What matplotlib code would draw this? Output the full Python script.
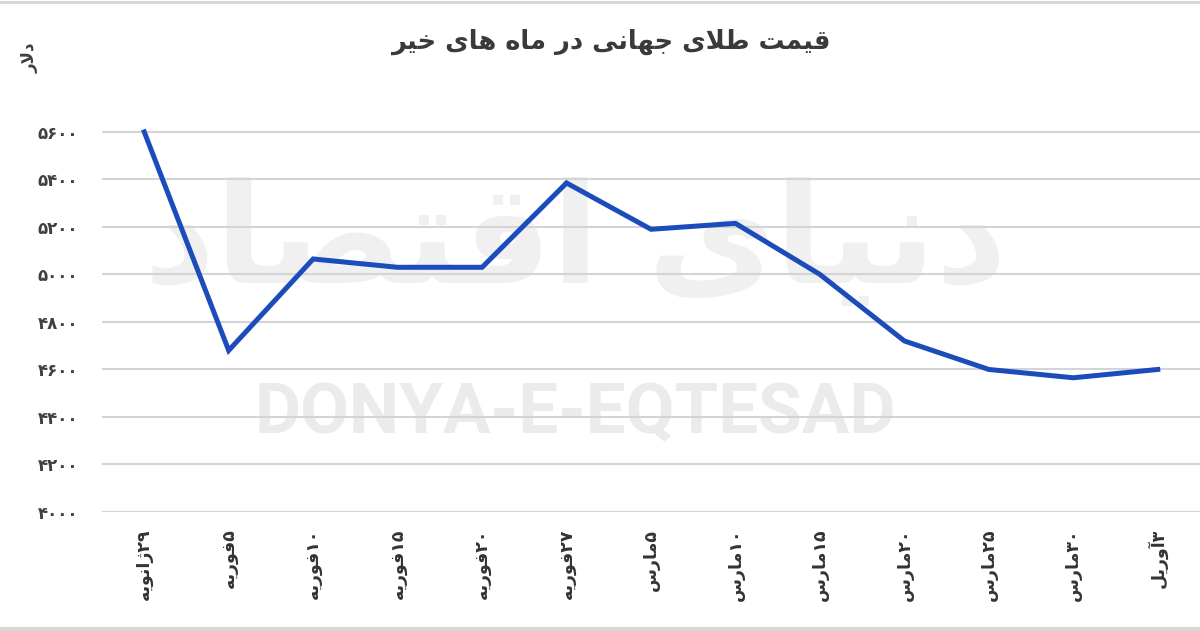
import matplotlib
matplotlib.use("Agg")
import matplotlib.pyplot as plt
from matplotlib.lines import Line2D

# ---------------- data ----------------
categories = ["۲۹ژانویه", "۵فوریه", "۱۰فوریه", "۱۵فوریه", "۲۰فوریه", "۲۷فوریه",
              "۵مارس", "۱۰مارس", "۱۵مارس", "۲۰مارس", "۲۵مارس", "۳۰مارس", "۳آوریل"]
prices = [5600, 4680, 5065, 5030, 5030, 5385, 5190, 5215, 5000, 4720, 4600, 4565, 4600]
y_ticks = [4000, 4200, 4400, 4600, 4800, 5000, 5200, 5400, 5600]
title_text = "قیمت طلای جهانی در ماه های خیر"
y_unit = "دلار"
watermark_latin = "DONYA-E-EQTESAD"
watermark_fa = "دنیای اقتصاد"

# ------------- minimal Arabic/Persian shaper -------------
FORMS = {
    "ا": ("\uFE8D", "\uFE8E", None, None),
    "آ": ("\uFE81", "\uFE82", None, None),
    "ب": ("\uFE8F", "\uFE90", "\uFE91", "\uFE92"),
    "ت": ("\uFE95", "\uFE96", "\uFE97", "\uFE98"),
    "ج": ("\uFE9D", "\uFE9E", "\uFE9F", "\uFEA0"),
    "خ": ("\uFEA5", "\uFEA6", "\uFEA7", "\uFEA8"),
    "د": ("\uFEA9", "\uFEAA", None, None),
    "ر": ("\uFEAD", "\uFEAE", None, None),
    "ژ": ("\uFB8A", "\uFB8B", None, None),
    "س": ("\uFEB1", "\uFEB2", "\uFEB3", "\uFEB4"),
    "ص": ("\uFEB9", "\uFEBA", "\uFEBB", "\uFEBC"),
    "ط": ("\uFEC1", "\uFEC2", "\uFEC3", "\uFEC4"),
    "ف": ("\uFED1", "\uFED2", "\uFED3", "\uFED4"),
    "ق": ("\uFED5", "\uFED6", "\uFED7", "\uFED8"),
    "ل": ("\uFEDD", "\uFEDE", "\uFEDF", "\uFEE0"),
    "م": ("\uFEE1", "\uFEE2", "\uFEE3", "\uFEE4"),
    "ن": ("\uFEE5", "\uFEE6", "\uFEE7", "\uFEE8"),
    "ه": ("\uFEE9", "\uFEEA", "\uFEEB", "\uFEEC"),
    "و": ("\uFEED", "\uFEEE", None, None),
    "ی": ("\uFBFC", "\uFBFD", "\uFBFE", "\uFBFF"),
}
LAM_ALEF = {"ا": ("\uFEFB", "\uFEFC"), "آ": ("\uFEF5", "\uFEF6")}


def dual(c):
    return c in FORMS and FORMS[c][2] is not None


def shape_word(s):
    out = []
    i = 0
    n = len(s)
    while i < n:
        c = s[i]
        if c not in FORMS:
            out.append(c)
            i += 1
            continue
        prev = s[i - 1] if i > 0 else ""
        joins_prev = dual(prev) and not (i >= 2 and s[i - 2] == "ل" and prev in LAM_ALEF)
        if c == "ل" and i + 1 < n and s[i + 1] in LAM_ALEF:
            iso, fin = LAM_ALEF[s[i + 1]]
            out.append(fin if joins_prev else iso)
            i += 2
            continue
        nxt = s[i + 1] if i + 1 < n else ""
        joins_next = dual(c) and nxt in FORMS
        iso, fin, ini, med = FORMS[c]
        if joins_prev and joins_next:
            out.append(med)
        elif joins_prev:
            out.append(fin)
        elif joins_next:
            out.append(ini)
        else:
            out.append(iso)
        i += 1
    return "".join(out)


def is_digit(c):
    return "\u06F0" <= c <= "\u06F9" or c.isdigit()


def rtl(s):
    # shape, split into runs (digit runs stay LTR), reverse run order
    runs = []
    cur = ""
    cur_d = None
    for c in s:
        d = is_digit(c)
        if cur_d is None or d == cur_d:
            cur += c
        else:
            runs.append((cur, cur_d))
            cur = c
        cur_d = d
    if cur:
        runs.append((cur, cur_d))
    vis = []
    for txt, d in runs:
        vis.append(txt if d else shape_word(txt)[::-1])
    return "".join(reversed(vis))


# ---------------- figure ----------------
plt.rcParams["font.family"] = ["DejaVu Sans"]
fig = plt.figure(figsize=(12, 6.31), dpi=100)
fig.patch.set_facecolor("white")

W, H = 1200, 631
left_px, right_px = 102, 1200
top_px, bot_px = 120, 512
ax = fig.add_axes([left_px / W, (H - bot_px) / H, (right_px - left_px) / W, (bot_px - top_px) / H])
ax.patch.set_alpha(0)

x = list(range(len(categories)))
ax.plot(x, prices, color="#1c4cbc", lw=3.6, solid_joinstyle="miter", clip_on=False, zorder=5)

ax.set_xlim(-0.5, len(categories) - 0.5)
ax.set_ylim(4000, 5650)
ax.set_yticks(y_ticks)
ax.set_yticklabels(["".join("۰۱۲۳۴۵۶۷۸۹"[int(d)] for d in str(v)) for v in y_ticks],
                   fontsize=12, color="#404040", fontweight="bold")
ax.set_xticks(x)
ax.set_xticklabels([rtl(c) for c in categories], rotation=90, fontsize=12.5,
                   color="#333333", fontweight="bold", va="top", ha="center")
ax.tick_params(axis="y", length=0, pad=17)
ax.tick_params(axis="x", length=0, pad=12)
ax.grid(axis="y", color="#d4d4d4", lw=1.5)
ax.set_axisbelow(True)
for s in ax.spines.values():
    s.set_visible(False)

# title & unit
fig.text(611 / W, (H - 42) / H, rtl(title_text), ha="center", va="center",
         fontsize=18.5, fontweight="bold", color="#3a3a3a")
fig.text(30 / W, (H - 58) / H, rtl(y_unit), rotation=90, ha="center", va="center",
         fontsize=12, fontweight="bold", color="#404040")

# watermarks
fig.text(575 / W, (H - 414) / H, watermark_latin, ha="center", va="center",
         fontsize=51, fontfamily="Roboto", fontweight="bold", color="#ebebeb", zorder=-2)
fig.text(575 / W, (H - 245) / H, rtl(watermark_fa), ha="center", va="center",
         fontsize=100, fontweight="bold", color="#f0f0f0", zorder=-2)

# light border lines at top and bottom
fig.add_artist(Line2D([0, 1], [1 - 1.5 / H, 1 - 1.5 / H], transform=fig.transFigure, color="#d6d6d6", lw=2))
fig.add_artist(Line2D([0, 1], [2.5 / H, 2.5 / H], transform=fig.transFigure, color="#d6d6d6", lw=3))

fig.savefig("out.png", dpi=100, facecolor="white")
